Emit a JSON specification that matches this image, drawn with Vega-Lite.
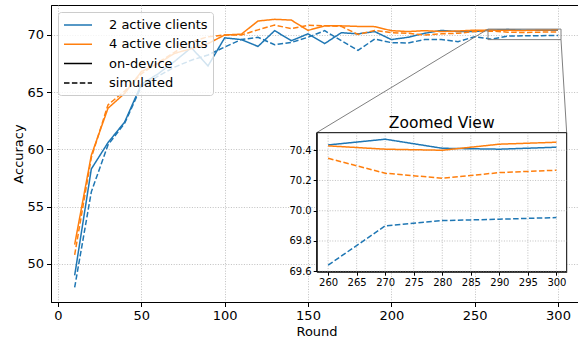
{
"$schema": "https://vega.github.io/schema/vega-lite/v6.json",
"width": 527, "height": 297,
"autosize": {"type": "none"},
"padding": {"left": 51, "top": 5, "right": 0, "bottom": 35},
"background": "white",
"config": {
 "font": "DejaVu Sans",
 "view": {"stroke": "#000000", "strokeWidth": 1},
 "axis": {"labelFontSize": 13, "labelColor": "#000", "titleFontSize": 13, "titleFontWeight": "normal", "titleColor": "#000", "tickColor": "#000", "domainColor": "#000", "tickSize": 4.5, "labelPadding": 3, "gridColor": "#b0b0b0", "gridDash": [1, 1.6], "gridWidth": 0.8, "gridOpacity": 1},
 "legend": {"orient": "none", "legendX": 7, "legendY": 7, "symbolType": "M-2,0H2", "symbolSize": 196, "symbolStrokeWidth": 1.5, "labelFontSize": 13, "labelColor": "#000", "rowPadding": 4.3, "padding": 5, "fillColor": "rgba(255,255,255,0.8)", "strokeColor": "#cccccc", "cornerRadius": 3, "symbolOffset": 7, "labelOffset": 23}
},
"datasets": {
 "acc": [
  {"round":10,"accuracy":49.0,"clients":"2 active clients","type":"on-device"},
  {"round":20,"accuracy":58.3,"clients":"2 active clients","type":"on-device"},
  {"round":30,"accuracy":60.6,"clients":"2 active clients","type":"on-device"},
  {"round":40,"accuracy":62.4,"clients":"2 active clients","type":"on-device"},
  {"round":50,"accuracy":65.7,"clients":"2 active clients","type":"on-device"},
  {"round":60,"accuracy":66.6,"clients":"2 active clients","type":"on-device"},
  {"round":70,"accuracy":67.7,"clients":"2 active clients","type":"on-device"},
  {"round":80,"accuracy":68.9,"clients":"2 active clients","type":"on-device"},
  {"round":90,"accuracy":67.3,"clients":"2 active clients","type":"on-device"},
  {"round":100,"accuracy":69.75,"clients":"2 active clients","type":"on-device"},
  {"round":110,"accuracy":69.6,"clients":"2 active clients","type":"on-device"},
  {"round":120,"accuracy":69.0,"clients":"2 active clients","type":"on-device"},
  {"round":130,"accuracy":70.38,"clients":"2 active clients","type":"on-device"},
  {"round":140,"accuracy":69.5,"clients":"2 active clients","type":"on-device"},
  {"round":150,"accuracy":70.1,"clients":"2 active clients","type":"on-device"},
  {"round":160,"accuracy":69.25,"clients":"2 active clients","type":"on-device"},
  {"round":170,"accuracy":70.2,"clients":"2 active clients","type":"on-device"},
  {"round":180,"accuracy":70.1,"clients":"2 active clients","type":"on-device"},
  {"round":190,"accuracy":70.3,"clients":"2 active clients","type":"on-device"},
  {"round":200,"accuracy":69.6,"clients":"2 active clients","type":"on-device"},
  {"round":210,"accuracy":69.8,"clients":"2 active clients","type":"on-device"},
  {"round":220,"accuracy":70.15,"clients":"2 active clients","type":"on-device"},
  {"round":230,"accuracy":70.4,"clients":"2 active clients","type":"on-device"},
  {"round":240,"accuracy":70.3,"clients":"2 active clients","type":"on-device"},
  {"round":250,"accuracy":70.3,"clients":"2 active clients","type":"on-device"},
  {"round":260,"accuracy":70.435,"clients":"2 active clients","type":"on-device"},
  {"round":270,"accuracy":70.473,"clients":"2 active clients","type":"on-device"},
  {"round":280,"accuracy":70.413,"clients":"2 active clients","type":"on-device"},
  {"round":290,"accuracy":70.407,"clients":"2 active clients","type":"on-device"},
  {"round":300,"accuracy":70.42,"clients":"2 active clients","type":"on-device"},
  {"round":10,"accuracy":47.95,"clients":"2 active clients","type":"simulated"},
  {"round":20,"accuracy":56.3,"clients":"2 active clients","type":"simulated"},
  {"round":30,"accuracy":60.4,"clients":"2 active clients","type":"simulated"},
  {"round":40,"accuracy":62.3,"clients":"2 active clients","type":"simulated"},
  {"round":50,"accuracy":65.5,"clients":"2 active clients","type":"simulated"},
  {"round":60,"accuracy":66.4,"clients":"2 active clients","type":"simulated"},
  {"round":70,"accuracy":67.2,"clients":"2 active clients","type":"simulated"},
  {"round":80,"accuracy":67.8,"clients":"2 active clients","type":"simulated"},
  {"round":90,"accuracy":68.25,"clients":"2 active clients","type":"simulated"},
  {"round":100,"accuracy":68.95,"clients":"2 active clients","type":"simulated"},
  {"round":110,"accuracy":69.6,"clients":"2 active clients","type":"simulated"},
  {"round":120,"accuracy":69.8,"clients":"2 active clients","type":"simulated"},
  {"round":130,"accuracy":69.15,"clients":"2 active clients","type":"simulated"},
  {"round":140,"accuracy":69.35,"clients":"2 active clients","type":"simulated"},
  {"round":150,"accuracy":69.8,"clients":"2 active clients","type":"simulated"},
  {"round":160,"accuracy":70.38,"clients":"2 active clients","type":"simulated"},
  {"round":170,"accuracy":69.5,"clients":"2 active clients","type":"simulated"},
  {"round":180,"accuracy":68.65,"clients":"2 active clients","type":"simulated"},
  {"round":190,"accuracy":69.65,"clients":"2 active clients","type":"simulated"},
  {"round":200,"accuracy":69.33,"clients":"2 active clients","type":"simulated"},
  {"round":210,"accuracy":69.3,"clients":"2 active clients","type":"simulated"},
  {"round":220,"accuracy":69.6,"clients":"2 active clients","type":"simulated"},
  {"round":230,"accuracy":69.6,"clients":"2 active clients","type":"simulated"},
  {"round":240,"accuracy":69.42,"clients":"2 active clients","type":"simulated"},
  {"round":250,"accuracy":69.85,"clients":"2 active clients","type":"simulated"},
  {"round":260,"accuracy":69.64,"clients":"2 active clients","type":"simulated"},
  {"round":270,"accuracy":69.9,"clients":"2 active clients","type":"simulated"},
  {"round":280,"accuracy":69.935,"clients":"2 active clients","type":"simulated"},
  {"round":290,"accuracy":69.944,"clients":"2 active clients","type":"simulated"},
  {"round":300,"accuracy":69.955,"clients":"2 active clients","type":"simulated"},
  {"round":10,"accuracy":51.7,"clients":"4 active clients","type":"on-device"},
  {"round":20,"accuracy":59.5,"clients":"4 active clients","type":"on-device"},
  {"round":30,"accuracy":63.6,"clients":"4 active clients","type":"on-device"},
  {"round":40,"accuracy":64.9,"clients":"4 active clients","type":"on-device"},
  {"round":50,"accuracy":66.8,"clients":"4 active clients","type":"on-device"},
  {"round":60,"accuracy":67.5,"clients":"4 active clients","type":"on-device"},
  {"round":70,"accuracy":68.4,"clients":"4 active clients","type":"on-device"},
  {"round":80,"accuracy":68.8,"clients":"4 active clients","type":"on-device"},
  {"round":90,"accuracy":69.25,"clients":"4 active clients","type":"on-device"},
  {"round":100,"accuracy":70.0,"clients":"4 active clients","type":"on-device"},
  {"round":110,"accuracy":70.07,"clients":"4 active clients","type":"on-device"},
  {"round":120,"accuracy":71.22,"clients":"4 active clients","type":"on-device"},
  {"round":130,"accuracy":71.37,"clients":"4 active clients","type":"on-device"},
  {"round":140,"accuracy":71.3,"clients":"4 active clients","type":"on-device"},
  {"round":150,"accuracy":70.4,"clients":"4 active clients","type":"on-device"},
  {"round":160,"accuracy":70.8,"clients":"4 active clients","type":"on-device"},
  {"round":170,"accuracy":70.8,"clients":"4 active clients","type":"on-device"},
  {"round":180,"accuracy":70.75,"clients":"4 active clients","type":"on-device"},
  {"round":190,"accuracy":70.73,"clients":"4 active clients","type":"on-device"},
  {"round":200,"accuracy":70.38,"clients":"4 active clients","type":"on-device"},
  {"round":210,"accuracy":70.3,"clients":"4 active clients","type":"on-device"},
  {"round":220,"accuracy":70.38,"clients":"4 active clients","type":"on-device"},
  {"round":230,"accuracy":70.3,"clients":"4 active clients","type":"on-device"},
  {"round":240,"accuracy":70.35,"clients":"4 active clients","type":"on-device"},
  {"round":250,"accuracy":70.42,"clients":"4 active clients","type":"on-device"},
  {"round":260,"accuracy":70.429,"clients":"4 active clients","type":"on-device"},
  {"round":270,"accuracy":70.407,"clients":"4 active clients","type":"on-device"},
  {"round":280,"accuracy":70.4,"clients":"4 active clients","type":"on-device"},
  {"round":290,"accuracy":70.44,"clients":"4 active clients","type":"on-device"},
  {"round":300,"accuracy":70.453,"clients":"4 active clients","type":"on-device"},
  {"round":10,"accuracy":50.8,"clients":"4 active clients","type":"simulated"},
  {"round":20,"accuracy":59.3,"clients":"4 active clients","type":"simulated"},
  {"round":30,"accuracy":63.9,"clients":"4 active clients","type":"simulated"},
  {"round":40,"accuracy":65.1,"clients":"4 active clients","type":"simulated"},
  {"round":50,"accuracy":66.6,"clients":"4 active clients","type":"simulated"},
  {"round":60,"accuracy":67.6,"clients":"4 active clients","type":"simulated"},
  {"round":70,"accuracy":68.5,"clients":"4 active clients","type":"simulated"},
  {"round":80,"accuracy":69.4,"clients":"4 active clients","type":"simulated"},
  {"round":90,"accuracy":69.85,"clients":"4 active clients","type":"simulated"},
  {"round":100,"accuracy":70.0,"clients":"4 active clients","type":"simulated"},
  {"round":110,"accuracy":70.0,"clients":"4 active clients","type":"simulated"},
  {"round":120,"accuracy":70.45,"clients":"4 active clients","type":"simulated"},
  {"round":130,"accuracy":70.87,"clients":"4 active clients","type":"simulated"},
  {"round":140,"accuracy":70.55,"clients":"4 active clients","type":"simulated"},
  {"round":150,"accuracy":70.85,"clients":"4 active clients","type":"simulated"},
  {"round":160,"accuracy":70.8,"clients":"4 active clients","type":"simulated"},
  {"round":170,"accuracy":70.75,"clients":"4 active clients","type":"simulated"},
  {"round":180,"accuracy":70.05,"clients":"4 active clients","type":"simulated"},
  {"round":190,"accuracy":70.4,"clients":"4 active clients","type":"simulated"},
  {"round":200,"accuracy":70.2,"clients":"4 active clients","type":"simulated"},
  {"round":210,"accuracy":70.15,"clients":"4 active clients","type":"simulated"},
  {"round":220,"accuracy":70.0,"clients":"4 active clients","type":"simulated"},
  {"round":230,"accuracy":70.1,"clients":"4 active clients","type":"simulated"},
  {"round":240,"accuracy":70.15,"clients":"4 active clients","type":"simulated"},
  {"round":250,"accuracy":70.3,"clients":"4 active clients","type":"simulated"},
  {"round":260,"accuracy":70.347,"clients":"4 active clients","type":"simulated"},
  {"round":270,"accuracy":70.248,"clients":"4 active clients","type":"simulated"},
  {"round":280,"accuracy":70.215,"clients":"4 active clients","type":"simulated"},
  {"round":290,"accuracy":70.252,"clients":"4 active clients","type":"simulated"},
  {"round":300,"accuracy":70.268,"clients":"4 active clients","type":"simulated"}
 ],
 "zoombox": [{"round":258,"round2":301.8,"accuracy":69.597,"accuracy2":70.516}],
 "connectors": [
  {"round":258,"accuracy":70.516,"round2":155.2,"accuracy2":61.47},
  {"round":301.8,"accuracy":69.597,"round2":305.2,"accuracy2":61.47}
 ],
 "insetx": [{"round":260},{"round":265},{"round":270},{"round":275},{"round":280},{"round":285},{"round":290},{"round":295},{"round":300}],
 "insety": [{"accuracy":69.6},{"accuracy":69.8},{"accuracy":70.0},{"accuracy":70.2},{"accuracy":70.4}],
 "insettitle": [{"round":279.9,"accuracy":70.516,"label":"Zoomed View"}]
},
"layer": [
 {"layer": [
  {"data": {"name": "acc"}, "mark": {"type": "line", "strokeWidth": 1.5},
   "encoding": {
    "x": {"field": "round", "type": "quantitative", "title": "Round", "scale": {"domain": [-4.2, 312], "nice": false, "zero": false}, "axis": {"values": [0,50,100,150,200,250,300], "grid": true, "titleBaseline": "alphabetic", "titleY": 33, "titleX": 265.5}},
    "y": {"field": "accuracy", "type": "quantitative", "title": "Accuracy", "scale": {"domain": [46.68, 72.62], "nice": false, "zero": false}, "axis": {"values": [50,55,60,65,70], "grid": true, "titlePadding": 1}},
    "color": {"field": "clients", "type": "nominal", "scale": {"domain": ["2 active clients","4 active clients","on-device","simulated"], "range": ["#1f77b4","#ff7f0e","#000000","#000000"]},
      "legend": {"title": null, "encode": {"symbols": {"update": {"strokeDash": {"signal": "datum.label === 'simulated' ? [5.5, 2.4] : [1, 0]"}}}}}},
    "strokeDash": {"field": "type", "type": "nominal", "scale": {"domain": ["on-device","simulated"], "range": [[1,0],[5.5,2.4]]}, "legend": null}
   }},
  {"data": {"name": "zoombox"}, "mark": {"type": "rect", "filled": false, "stroke": "#808080", "strokeWidth": 1},
   "encoding": {
    "x": {"field": "round", "type": "quantitative", "title": "Round", "scale": {"domain": [-4.2, 312], "nice": false, "zero": false}},
    "x2": {"field": "round2"},
    "y": {"field": "accuracy", "type": "quantitative", "title": "Accuracy", "scale": {"domain": [46.68, 72.62], "nice": false, "zero": false}},
    "y2": {"field": "accuracy2"}
   }},
  {"data": {"name": "connectors"}, "mark": {"type": "rule", "stroke": "#808080", "strokeWidth": 1},
   "encoding": {
    "x": {"field": "round", "type": "quantitative", "title": "Round", "scale": {"domain": [-4.2, 312], "nice": false, "zero": false}},
    "x2": {"field": "round2"},
    "y": {"field": "accuracy", "type": "quantitative", "title": "Accuracy", "scale": {"domain": [46.68, 72.62], "nice": false, "zero": false}},
    "y2": {"field": "accuracy2"}
   }}
 ]},
 {"layer": [
  {"data": {"name": "zoombox"}, "mark": {"type": "rect", "fill": "white", "stroke": "#000000", "strokeWidth": 1},
   "encoding": {
    "x": {"field": "round", "type": "quantitative", "title": null, "scale": {"domain": [258, 301.8], "range": [265.7, 515.7], "nice": false, "zero": false}, "axis": {"orient": "bottom", "offset": -30.3, "values": [260,265,270,275,280,285,290,295,300], "labelFontSize": 10, "tickSize": 3.5, "labelPadding": 2, "grid": false, "title": null, "zindex": 1}},
    "x2": {"field": "round2"},
    "y": {"field": "accuracy", "type": "quantitative", "title": null, "scale": {"domain": [69.597, 70.516], "range": [266.7, 127.7], "nice": false, "zero": false}, "axis": {"orient": "left", "offset": -265.7, "values": [69.6,69.8,70.0,70.2,70.4], "format": ".1f", "labelFontSize": 10, "tickSize": 3.5, "labelPadding": 2, "grid": false, "title": null, "zindex": 1}},
    "y2": {"field": "accuracy2"}
   }},
  {"data": {"name": "insetx"}, "mark": {"type": "rule", "stroke": "#b0b0b0", "strokeWidth": 0.8, "strokeDash": [1, 1.6]},
   "encoding": {
    "x": {"field": "round", "type": "quantitative", "title": null, "scale": {"domain": [258, 301.8], "range": [265.7, 515.7], "nice": false, "zero": false}},
    "y": {"datum": 69.597, "scale": {"domain": [69.597, 70.516], "range": [266.7, 127.7], "nice": false, "zero": false}},
    "y2": {"datum": 70.516}
   }},
  {"data": {"name": "insety"}, "mark": {"type": "rule", "stroke": "#b0b0b0", "strokeWidth": 0.8, "strokeDash": [1, 1.6]},
   "encoding": {
    "y": {"field": "accuracy", "type": "quantitative", "title": null, "scale": {"domain": [69.597, 70.516], "range": [266.7, 127.7], "nice": false, "zero": false}},
    "x": {"datum": 258, "scale": {"domain": [258, 301.8], "range": [265.7, 515.7], "nice": false, "zero": false}},
    "x2": {"datum": 301.8}
   }},
  {"data": {"name": "acc"}, "transform": [{"filter": "datum.round >= 260"}], "mark": {"type": "line", "strokeWidth": 1.5},
   "encoding": {
    "x": {"field": "round", "type": "quantitative", "title": null, "scale": {"domain": [258, 301.8], "range": [265.7, 515.7], "nice": false, "zero": false}},
    "y": {"field": "accuracy", "type": "quantitative", "title": null, "scale": {"domain": [69.597, 70.516], "range": [266.7, 127.7], "nice": false, "zero": false}},
    "color": {"field": "clients", "type": "nominal"},
    "strokeDash": {"field": "type", "type": "nominal", "legend": null}
   }},
  {"data": {"name": "insettitle"}, "mark": {"type": "text", "fontSize": 15.5, "baseline": "alphabetic", "align": "center", "dy": -4.5, "color": "#000000"},
   "encoding": {
    "x": {"field": "round", "type": "quantitative", "title": null, "scale": {"domain": [258, 301.8], "range": [265.7, 515.7], "nice": false, "zero": false}},
    "y": {"field": "accuracy", "type": "quantitative", "title": null, "scale": {"domain": [69.597, 70.516], "range": [266.7, 127.7], "nice": false, "zero": false}},
    "text": {"field": "label"}
   }}
 ]}
],
"resolve": {"scale": {"x": "independent", "y": "independent"}}
}
